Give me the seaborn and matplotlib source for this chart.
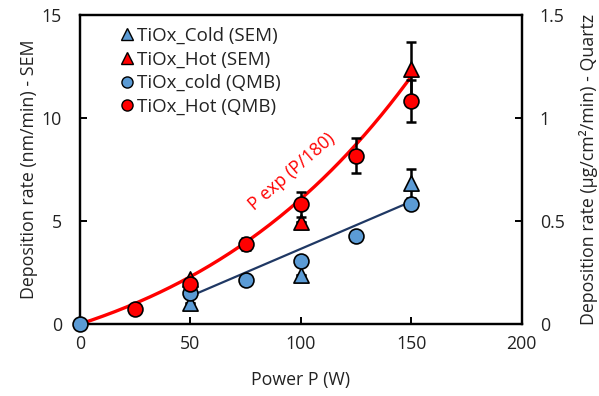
import numpy as np
import pandas as pd
import matplotlib
matplotlib.use("Agg")
import matplotlib.pyplot as plt
import seaborn as sns
from matplotlib.lines import Line2D

# ---- data ----
sem_power = [50, 100, 150]
sem_cold = [1.0, 2.37, 6.83]
sem_cold_err = [0.0, 0.0, 0.7]
sem_hot = [2.2, 4.95, 12.35]
sem_hot_err = [0.0, 0.0, 1.35]

qmb_cold_power = [0, 50, 75, 100, 125, 150]
qmb_cold = [0.0, 0.148, 0.213, 0.306, 0.425, 0.580]
qmb_hot_power = [25, 50, 75, 100, 125, 150]
qmb_hot = [0.074, 0.192, 0.388, 0.580, 0.815, 1.082]
qmb_hot_err = [0.0, 0.0, 0.03, 0.06, 0.085, 0.10]

cold_fit_power = [50, 150]
cold_fit_rate = [1.35, 5.94]
hot_fit_coef = 0.0348  # model: a * P * exp(P/180)

x_ticks = [0, 50, 100, 150, 200]
left_ticks = [0, 5, 10, 15]
right_ticks = [0, 0.5, 1, 1.5]
right_tick_labels = ["0", "0.5", "1", "1.5"]

BLUE = "#5B9BD5"
RED = "#FF0000"
NAVY = "#1F3864"
TXT = "#222222"
FS = 12.8

sns.set_theme(style="white")
plt.rcParams["font.family"] = ["Open Sans", "DejaVu Sans"]

fig = plt.figure(figsize=(5.99, 3.96), dpi=100)
ax = fig.add_axes([80 / 599, 1 - 324 / 396, (521.7 - 80) / 599, (324 - 14.7) / 396])
ax2 = ax.twinx()

# fit curves
p_curve = np.linspace(0, 150, 200)
hot_df = pd.DataFrame({"P": p_curve, "rate": hot_fit_coef * p_curve * np.exp(p_curve / 180)})
sns.lineplot(data=hot_df, x="P", y="rate", ax=ax, color=RED, lw=2.4, zorder=2)
cold_df = pd.DataFrame({"P": cold_fit_power, "rate": cold_fit_rate})
sns.lineplot(data=cold_df, x="P", y="rate", ax=ax, color=NAVY, lw=1.6, zorder=2)

# error bars
ax.errorbar(sem_power, sem_cold, yerr=sem_cold_err, fmt="none", ecolor="black",
            elinewidth=1.8, capsize=3.5, capthick=1.8, zorder=3)
ax.errorbar(sem_power, sem_hot, yerr=sem_hot_err, fmt="none", ecolor="black",
            elinewidth=1.8, capsize=3.5, capthick=1.8, zorder=3)
ax2.errorbar(qmb_hot_power, qmb_hot, yerr=qmb_hot_err, fmt="none", ecolor="black",
             elinewidth=1.8, capsize=3.5, capthick=1.8, zorder=3)

# SEM triangles
sns.scatterplot(x=sem_power, y=sem_cold, ax=ax, marker="^", s=120, color=BLUE,
                edgecolor="black", linewidth=1.2, zorder=4)
sns.scatterplot(x=sem_power, y=sem_hot, ax=ax, marker="^", s=120, color=RED,
                edgecolor="black", linewidth=1.2, zorder=4)
# QMB circles (right axis)
sns.scatterplot(x=qmb_cold_power, y=qmb_cold, ax=ax2, marker="o", s=115, color=BLUE,
                edgecolor="black", linewidth=1.2, zorder=5, clip_on=False)
sns.scatterplot(x=qmb_hot_power, y=qmb_hot, ax=ax2, marker="o", s=115, color=RED,
                edgecolor="black", linewidth=1.2, zorder=5)

ax.set_xlim(0, 200)
ax.set_ylim(0, 15)
ax2.set_ylim(0, 1.5)
ax.set_xticks(x_ticks)
ax.set_yticks(left_ticks)
ax2.set_yticks(right_ticks)
ax2.set_yticklabels(right_tick_labels)

for a in (ax, ax2):
    for s in a.spines.values():
        s.set_color("black")
        s.set_linewidth(1.6)
ax.tick_params(axis="both", direction="in", length=5, width=1.4, colors="black",
               labelsize=FS, pad=13, labelcolor=TXT)
ax.tick_params(axis="x", pad=8, top=False, bottom=True)
ax.tick_params(axis="y", left=True, right=False)
ax2.tick_params(axis="y", direction="in", length=5, width=1.4, colors="black",
                labelsize=FS, pad=13, labelcolor=TXT, right=True)

ax.set_xlabel("Power P (W)", fontsize=FS, color=TXT, labelpad=13)
ax.set_ylabel("Deposition rate (nm/min) - SEM", fontsize=FS, color=TXT, labelpad=3)
ax2.set_ylabel("Deposition rate (µg/cm²/min) - Quartz", fontsize=FS, color=TXT,
               labelpad=10)

ax.text(96, 7.4, "P exp (P/180)", color=RED, fontsize=FS, rotation=41,
        ha="center", va="center")

handles = [
    Line2D([], [], ls="none", marker="^", ms=8, mfc=BLUE, mec="black", mew=1.0),
    Line2D([], [], ls="none", marker="^", ms=8, mfc=RED, mec="black", mew=1.0),
    Line2D([], [], ls="none", marker="o", ms=8, mfc=BLUE, mec="black", mew=1.0),
    Line2D([], [], ls="none", marker="o", ms=8, mfc=RED, mec="black", mew=1.0),
]
labels = ["TiOx_Cold (SEM)", "TiOx_Hot (SEM)", "TiOx_cold (QMB)", "TiOx_Hot (QMB)"]
leg = ax2.legend(handles, labels, loc="upper left", bbox_to_anchor=(0.065, 0.985),
                 frameon=False, fontsize=13.5, handletextpad=-0.1, labelspacing=0.3,
                 handlelength=1.2, borderaxespad=0.0)
for t in leg.get_texts():
    t.set_color(TXT)

fig.savefig("out.png", dpi=100)
